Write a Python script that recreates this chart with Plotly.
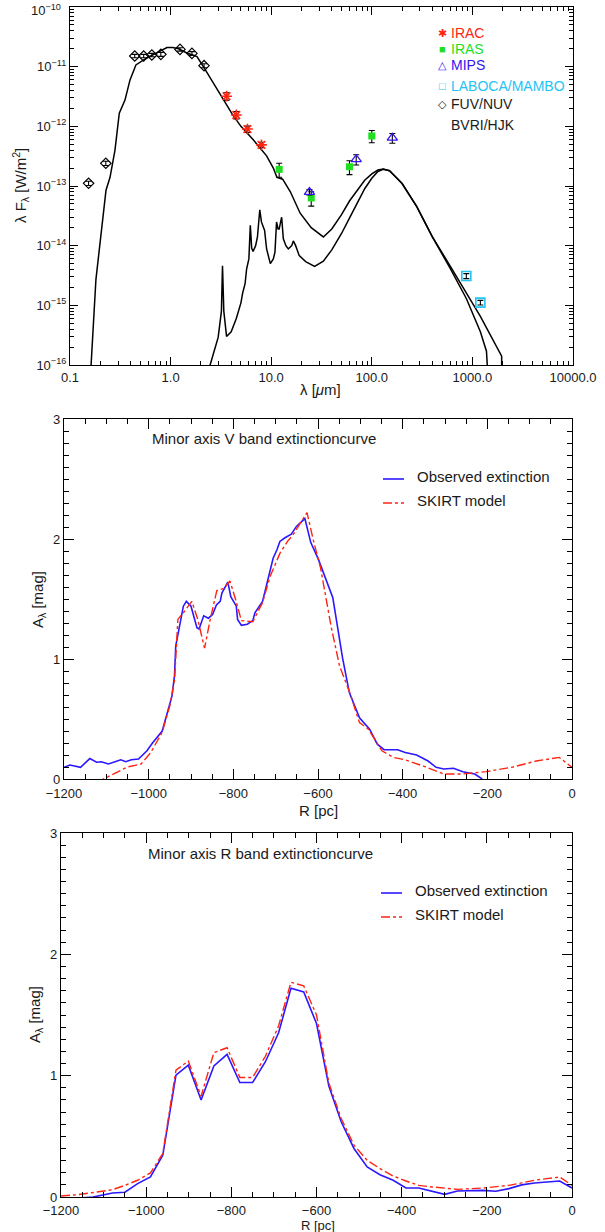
import plotly.graph_objects as go

W, H = 605, 1232

# ---------------- data: SED panel ----------------
total_wl = [0.155, 0.162, 0.181, 0.198, 0.228, 0.25, 0.28, 0.309, 0.352, 0.395, 0.452, 0.58, 0.73,
            0.92, 1.05, 1.2, 1.45, 1.83, 2.2, 2.9, 4.1, 5.0, 6.6, 9.0, 10.5, 11.4, 12.3, 13.0, 15.5,
            19.4, 25, 33, 40, 50, 60, 70, 85, 100, 115, 130, 150, 178, 200, 280, 400, 600, 870,
            1200, 1954, 1954]
total_flux = [5e-17, 1e-16, 2.7e-15, 9.5e-15, 8.5e-14, 1.4e-13, 4e-13, 1.66e-12, 2.75e-12, 6e-12,
              1.07e-11, 1.4e-11, 1.7e-11, 2.1e-11, 2.1e-11, 2.0e-11, 1.7e-11, 1.48e-11, 9e-12,
              4.1e-12, 1.6e-12, 1.0e-12, 6e-13, 3.2e-13, 2.0e-13, 1.4e-13, 1.35e-13, 1.3e-13, 8e-14,
              3.5e-14, 2.0e-14, 1.4e-14, 1.9e-14, 3.3e-14, 5.6e-14, 8e-14, 1.25e-13, 1.6e-13,
              1.85e-13, 1.92e-13, 1.8e-13, 1.35e-13, 1.1e-13, 4.5e-14, 1.4e-14, 4.6e-15, 1.6e-15,
              6.5e-16, 1.4e-16, 5e-17]

dust_wl = [2.4, 2.47, 2.97, 3.2, 3.28, 3.38, 3.6, 4.0, 4.5, 5.0, 5.2, 5.5, 5.7, 6.0, 6.2, 6.4, 6.6,
           7.0, 7.3, 7.7, 8.0, 8.3, 8.6, 9.0, 9.8, 10.5, 10.9, 11.3, 11.7, 12.0, 12.7, 13.2, 14.0,
           14.8, 16.0, 16.6, 17.5, 19.0, 22, 27, 33, 40, 50, 60, 70, 85, 100, 115, 130, 150, 178,
           200, 280, 400, 600, 870, 1200, 1380, 1440]
dust_flux = [6e-17, 1e-16, 2.9e-16, 8e-16, 4.6e-15, 8e-16, 3e-16, 3.6e-16, 6e-16, 1.1e-15, 1.6e-15,
             2.3e-15, 4.1e-15, 6e-15, 2.2e-14, 9e-15, 8e-15, 1.0e-14, 1.4e-14, 4e-14, 2.5e-14,
             2.1e-14, 1.8e-14, 8.8e-15, 5e-15, 6e-15, 7.8e-15, 2.5e-14, 1.9e-14, 1.9e-14, 3e-14,
             1.3e-14, 1.0e-14, 8.8e-15, 1.0e-14, 1.2e-14, 1.0e-14, 6.8e-15, 5.4e-15, 4.5e-15,
             5.5e-15, 8.5e-15, 1.6e-14, 2.9e-14, 4.8e-14, 9e-14, 1.35e-13, 1.75e-13, 1.9e-13,
             1.8e-13, 1.35e-13, 1.1e-13, 4.5e-14, 1.4e-14, 4.2e-15, 1.3e-15, 3.6e-16, 1.7e-16, 5e-17]

optical_wl = [0.153, 0.227, 0.44, 0.54, 0.65, 0.80, 1.24, 1.63, 2.15]
optical_flux = [1.11e-13, 2.4e-13, 1.51e-11, 1.51e-11, 1.57e-11, 1.61e-11, 1.95e-11, 1.67e-11, 1.04e-11]
optical_err = [0.09e-13, 0.2e-13, 0.1e-11, 0.1e-11, 0.1e-11, 0.12e-11, 0.13e-11, 0.12e-11, 0.08e-11]

irac_wl = [3.6, 4.5, 5.8, 8.0]
irac_flux = [3.2e-12, 1.55e-12, 9.0e-13, 4.9e-13]
irac_err = [0.45e-12, 0.22e-12, 1.1e-13, 0.5e-13]

iras_wl = [12, 25, 60, 100]
iras_flux = [1.9e-13, 6.3e-14, 2.1e-13, 6.9e-13]
iras_err = [0.5e-13, 1.7e-14, 0.55e-13, 1.6e-13]

mips_wl = [24, 70, 160]
mips_flux = [7.9e-14, 2.8e-13, 6.4e-13]
mips_err = [0.8e-14, 0.55e-13, 1.2e-13]

submm_wl = [870, 1200]
submm_flux = [3.1e-15, 1.11e-15]
submm_err = [0.3e-15, 0.1e-15]

sed_xtick_vals = [0.1, 1, 10, 100, 1000, 10000]
sed_xtick_text = ["0.1", "1.0", "10.0", "100.0", "1000.0", "10000.0"]
sed_ytick_vals = [1e-16, 1e-15, 1e-14, 1e-13, 1e-12, 1e-11]
sed_ytick_text = ["10<sup>\u221216</sup>", "10<sup>\u221215</sup>", "10<sup>\u221214</sup>",
                  "10<sup>\u221213</sup>", "10<sup>\u221212</sup>", "10<sup>\u221211</sup>"]
sed_ytop_text = "10<sup>\u221210</sup>"

legend_names = ["IRAC", "IRAS", "MIPS", "LABOCA/MAMBO", "FUV/NUV", "BVRI/HJK"]
legend_symbols = ["\u2731", "\u25A0", "\u25B3", "\u25A1", "\u25C7", ""]

# ---------------- data: V band extinction ----------------
v_obs_r = [-1200, -1186, -1161, -1139, -1123, -1112, -1095, -1066, -1054, -1041, -1024, -1004, -991,
           -968, -945, -939, -936, -930, -918, -911, -900, -886, -881, -870, -859, -849, -840, -831,
           -827, -813, -806, -793, -790, -781, -767, -754, -749, -731, -722, -706, -697, -690, -678,
           -663, -651, -631, -617, -599, -565, -556, -542, -526, -517, -502, -478, -460, -444, -412,
           -394, -367, -340, -321, -303, -280, -258, -230, -212]
v_obs_a = [0.097, 0.116, 0.097, 0.17, 0.14, 0.144, 0.125, 0.16, 0.144, 0.16, 0.166, 0.235, 0.30,
           0.40, 0.69, 0.86, 1.11, 1.22, 1.44, 1.48, 1.44, 1.26, 1.25, 1.36, 1.34, 1.37, 1.45, 1.48,
           1.55, 1.64, 1.52, 1.44, 1.33, 1.28, 1.29, 1.32, 1.385, 1.48, 1.61, 1.84, 1.91, 1.98, 2.01,
           2.04, 2.105, 2.17, 1.97, 1.83, 1.51, 1.30, 1.01, 0.72, 0.64, 0.51, 0.415, 0.29, 0.244,
           0.244, 0.22, 0.20, 0.15, 0.097, 0.083, 0.089, 0.061, 0.042, 0.0]

v_mod_r = [-1200, -1109, -1077, -1050, -1018, -995, -968, -950, -939, -931, -918, -898, -884, -868,
           -854, -839, -822, -808, -795, -781, -754, -731, -713, -690, -672, -658, -626, -611, -594,
           -569, -549, -526, -502, -481, -449, -422, -394, -349, -303, -258, -203, -139, -85, -30, 0]
v_mod_a = [-0.165, 0.0, 0.055, 0.10, 0.125, 0.22, 0.39, 0.61, 0.82, 1.33, 1.385, 1.48, 1.33, 1.09,
           1.34, 1.57, 1.59, 1.65, 1.50, 1.32, 1.31, 1.47, 1.69, 1.88, 1.98, 2.04, 2.22, 1.99, 1.76,
           1.27, 0.94, 0.73, 0.47, 0.415, 0.235, 0.18, 0.16, 0.105, 0.042, 0.042, 0.061, 0.10, 0.15,
           0.18, 0.097]

# ---------------- data: R band extinction ----------------
r_obs_r = [-1200, -1125, -1079, -1050, -1020, -990, -961, -930, -901, -871, -841, -810, -780, -750,
           -720, -689, -660, -630, -600, -571, -542, -512, -481, -451, -420, -390, -360, -329, -299,
           -269, -209, -179, -148, -118, -88, -59, -29, 0]
r_obs_a = [-0.02, 0.0, 0.033, 0.039, 0.11, 0.165, 0.344, 1.005, 1.087, 0.80, 1.08, 1.175, 0.944,
           0.944, 1.115, 1.354, 1.72, 1.69, 1.43, 0.914, 0.62, 0.40, 0.248, 0.184, 0.138, 0.074,
           0.074, 0.05, 0.022, 0.05, 0.055, 0.047, 0.069, 0.10, 0.116, 0.124, 0.132, 0.074]

r_mod_r = [-1200, -1161, -1116, -1079, -1050, -1020, -990, -961, -930, -901, -871, -841, -810, -780,
           -750, -720, -689, -660, -630, -600, -571, -542, -512, -481, -451, -420, -390, -360, -329,
           -299, -269, -209, -179, -148, -118, -88, -59, -29, 0]
r_mod_a = [0.008, 0.019, 0.041, 0.06, 0.096, 0.138, 0.198, 0.358, 1.046, 1.12, 0.83, 1.19, 1.23,
           0.985, 0.985, 1.16, 1.41, 1.77, 1.74, 1.50, 0.94, 0.647, 0.427, 0.303, 0.234, 0.173,
           0.132, 0.096, 0.083, 0.074, 0.063, 0.074, 0.083, 0.096, 0.116, 0.138, 0.151, 0.165, 0.096]

ext_xticks = [-1200, -1000, -800, -600, -400, -200, 0]
ext_yticks = [0, 1, 2, 3]

# ---------------- styling ----------------
FONT = "Liberation Sans, Arial, sans-serif"
TXT = "#1a1a1a"
RED = "#ff2410"
GREEN = "#1ee01e"
BLUE = "#3414f0"
CYAN = "#1ec4f5"
OBS_BLUE = "#2c18ff"


def px(x):
    return x / W


def py(y):
    return 1 - y / H


fig = go.Figure()

# SED model curves
fig.add_trace(go.Scatter(x=total_wl, y=total_flux, mode="lines", line=dict(color="black", width=1.5),
                         xaxis="x", yaxis="y", showlegend=False))
fig.add_trace(go.Scatter(x=dust_wl, y=dust_flux, mode="lines", line=dict(color="black", width=1.5),
                         xaxis="x", yaxis="y", showlegend=False))


def pts(x, y, e, sym, color, size, lw=1.2):
    fig.add_trace(go.Scatter(
        x=x, y=y, mode="markers", xaxis="x", yaxis="y", showlegend=False,
        marker=dict(symbol=sym, size=size, color=color, line=dict(color=color, width=lw)),
        error_y=dict(type="data", array=e, color="black", thickness=1.1, width=3),
    ))


pts(optical_wl, optical_flux, optical_err, "diamond-open", "black", 8)
pts(irac_wl, irac_flux, irac_err, "asterisk-open", RED, 9, 1.6)
pts(iras_wl, iras_flux, iras_err, "square", GREEN, 7, 0)
pts(mips_wl, mips_flux, mips_err, "triangle-up-open", BLUE, 9, 1.3)
pts(submm_wl, submm_flux, submm_err, "square-open", CYAN, 9, 1.6)

# V band
fig.add_trace(go.Scatter(x=v_obs_r, y=v_obs_a, mode="lines", line=dict(color=OBS_BLUE, width=1.6),
                         xaxis="x2", yaxis="y2", showlegend=False))
fig.add_trace(go.Scatter(x=v_mod_r, y=v_mod_a, mode="lines",
                         line=dict(color=RED, width=1.4, dash="dashdot"),
                         xaxis="x2", yaxis="y2", showlegend=False))
# R band
fig.add_trace(go.Scatter(x=r_obs_r, y=r_obs_a, mode="lines", line=dict(color=OBS_BLUE, width=1.6),
                         xaxis="x3", yaxis="y3", showlegend=False))
fig.add_trace(go.Scatter(x=r_mod_r, y=r_mod_a, mode="lines",
                         line=dict(color=RED, width=1.4, dash="dashdot"),
                         xaxis="x3", yaxis="y3", showlegend=False))

tickfont = dict(family=FONT, size=13, color=TXT)
common = dict(showline=True, linecolor="black", linewidth=1.2, mirror="allticks", ticks="inside",
              tickcolor="black", tickwidth=1, showgrid=False, zeroline=False, tickfont=tickfont,
              automargin=False, ticklabeloverflow="allow")

minor_log_x = [k * 10.0 ** d for d in range(-1, 4) for k in range(2, 10)]
minor_log_y = [k * 10.0 ** d for d in range(-16, -10) for k in range(2, 10)]

layout = dict(
    width=W, height=H, margin=dict(l=0, r=0, t=0, b=0, autoexpand=False),
    paper_bgcolor="white", plot_bgcolor="white", showlegend=False,
    xaxis=dict(common, type="log", range=[-1, 4], domain=[px(70), px(573)], anchor="y",
               tickmode="array", tickvals=sed_xtick_vals, ticktext=sed_xtick_text, ticklen=8,
               minor=dict(tickmode="array", tickvals=minor_log_x, ticks="inside", ticklen=4,
                          tickcolor="black", showgrid=False)),
    yaxis=dict(common, type="log", range=[-16.0005, -9.9995], domain=[py(365), py(7)], anchor="x",
               tickmode="array", tickvals=sed_ytick_vals, ticktext=sed_ytick_text, ticklen=8,
               minor=dict(tickmode="array", tickvals=minor_log_y, ticks="inside", ticklen=4,
                          tickcolor="black", showgrid=False)),
    xaxis2=dict(common, range=[-1200, 0], domain=[px(64), px(572)], anchor="y2",
                tickmode="array", tickvals=ext_xticks, ticklen=10, ticklabelstandoff=2,
                minor=dict(dtick=50, tick0=0, ticks="inside", ticklen=5, tickcolor="black", showgrid=False)),
    yaxis2=dict(common, range=[0, 3], domain=[py(779), py(419)], anchor="x2",
                tickmode="array", tickvals=ext_yticks, ticklen=10,
                minor=dict(dtick=0.1, tick0=0, ticks="inside", ticklen=5, tickcolor="black", showgrid=False)),
    xaxis3=dict(common, range=[-1200, 0], domain=[px(61), px(572)], anchor="y3",
                tickmode="array", tickvals=ext_xticks, ticklen=10, ticklabelstandoff=1,
                minor=dict(dtick=50, tick0=0, ticks="inside", ticklen=5, tickcolor="black", showgrid=False)),
    yaxis3=dict(common, range=[0, 3], domain=[py(1197), py(833)], anchor="x3",
                tickmode="array", tickvals=ext_yticks, ticklen=10,
                minor=dict(dtick=0.1, tick0=0, ticks="inside", ticklen=5, tickcolor="black", showgrid=False)),
)
fig.update_layout(**layout)

ann = []
shapes = []


def text(x, y, s, size=14, color=TXT, xanchor="left", angle=0):
    ann.append(dict(x=px(x), y=py(y), xref="paper", yref="paper", text=s, showarrow=False,
                    xanchor=xanchor, yanchor="middle", textangle=angle,
                    font=dict(family=FONT, size=size, color=color)))


# top-most decade label of the SED axis (kept inside the page)
text(63, 10, sed_ytop_text, size=13, xanchor="right")

# SED legend
leg_colors = [RED, GREEN, BLUE, CYAN, TXT, TXT]
leg_y = [33, 49, 65, 86, 104, 125]
for name, sym, col, yy in zip(legend_names, legend_symbols, leg_colors, leg_y):
    if sym:
        text(442, yy, sym, size=11, color=col, xanchor="center")
    text(449, yy, name, size=14, color=col)

# axis titles
text(320, 389, "\u03bb [<i>\u03bc</i>m]", size=15, xanchor="center")
text(20, 186, "\u03bb F<sub>\u03bb</sub> [W/m<sup>2</sup>]", size=15, xanchor="center", angle=-90)
text(318, 810, "R [pc]", size=15, xanchor="center")
text(38, 600, "A<sub>\u03bb</sub> [mag]", size=15, xanchor="center", angle=-90)
text(318, 1225, "R [pc]", size=13, xanchor="center")
text(35, 1015, "A<sub>\u03bb</sub> [mag]", size=15, xanchor="center", angle=-90)

# panel titles and legends
text(150, 439, "Minor axis V band extinctioncurve", size=15)
text(146, 853, "Minor axis R band extinctioncurve", size=15)
for (y1, y2, xl) in [(479, 503, 383), (893, 917, 381)]:
    shapes.append(dict(type="line", xref="paper", yref="paper", x0=px(xl), x1=px(xl + 21),
                       y0=py(y1), y1=py(y1), line=dict(color=OBS_BLUE, width=1.6)))
    shapes.append(dict(type="line", xref="paper", yref="paper", x0=px(xl), x1=px(xl + 21),
                       y0=py(y2), y1=py(y2), line=dict(color=RED, width=1.4, dash="dashdot")))
    text(xl + 32, y1 - 3, "Observed extinction", size=15)
    text(xl + 32, y2 - 3, "SKIRT model", size=15)

fig.update_layout(annotations=ann, shapes=shapes)
fig.write_html("out.html")
